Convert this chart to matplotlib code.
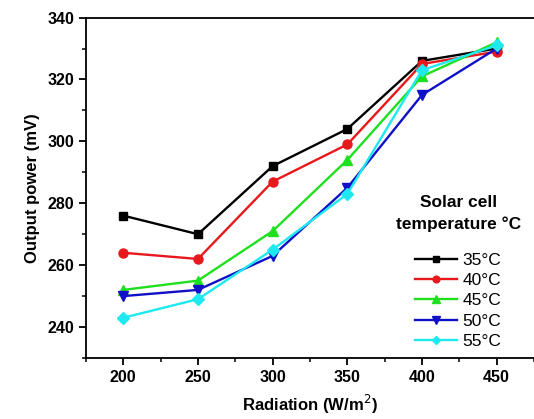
import matplotlib.pyplot as plt
from matplotlib.ticker import MultipleLocator

plt.rcParams['font.family'] = ['Liberation Sans', 'DejaVu Sans']

# radiation (W/m^2) and output power (mV) for each cell temperature
radiation = [200, 250, 300, 350, 400, 450]
p35 = [276, 270, 292, 304, 326, 330]
p40 = [264, 262, 287, 299, 325, 329]
p45 = [252, 255, 271, 294, 321, 332]
p50 = [250, 252, 263, 285, 315, 330]
p55 = [243, 249, 265, 283, 323, 331]
labels = ['35°C', '40°C', '45°C', '50°C', '55°C']

series = [p35, p40, p45, p50, p55]
colors = ['#000000', '#e8191c', '#1ee01e', '#1010c8', '#1ee8f0']
markers = ['s', 'o', '^', 'v', 'D']
msizes = [6, 6.5, 7, 7, 6]

fig = plt.figure(figsize=(5.34, 4.19), dpi=100)
ax = fig.add_axes([0.161, 0.1456, 0.839, 0.8125])

for vals, c, m, ms, lab in zip(series, colors, markers, msizes, labels):
    ax.plot(radiation, vals, color=c, marker=m, markersize=ms, lw=1.7, label=lab)

ax.set_xlim(175, 475)
ax.set_ylim(230, 340)
ax.xaxis.set_major_locator(MultipleLocator(50))
ax.xaxis.set_minor_locator(MultipleLocator(25))
ax.yaxis.set_major_locator(MultipleLocator(20))
ax.yaxis.set_minor_locator(MultipleLocator(10))
ax.tick_params(which='major', direction='out', length=5, width=1.3, labelsize=11.5)
ax.tick_params(which='minor', direction='out', length=3, width=1.1)
for t in ax.get_xticklabels() + ax.get_yticklabels():
    t.set_fontweight('bold')
for s in ax.spines.values():
    s.set_linewidth(1.3)
ax.spines['right'].set_visible(False)

ax.set_xlabel('Radiation (W/m$^2$)', fontsize=12, fontweight='bold', labelpad=6)
ax.set_ylabel('Output power (mV)', fontsize=12, fontweight='bold', labelpad=5)

leg = ax.legend(title='Solar cell\ntemperature °C', frameon=False, fontsize=12.5,
                loc='upper center', bbox_to_anchor=(0.858, 0.535),
                bbox_transform=fig.transFigure, handlelength=2.4, markerscale=0.75,
                labelspacing=0.3, handletextpad=0.3, borderaxespad=0, borderpad=0)
leg.get_title().set_fontweight('bold')
leg.get_title().set_fontsize(12.5)
leg.get_title().set_multialignment('center')
leg.get_title().set_linespacing(1.5)
leg._legend_box.sep = 15

fig.savefig('out.png', dpi=100)
